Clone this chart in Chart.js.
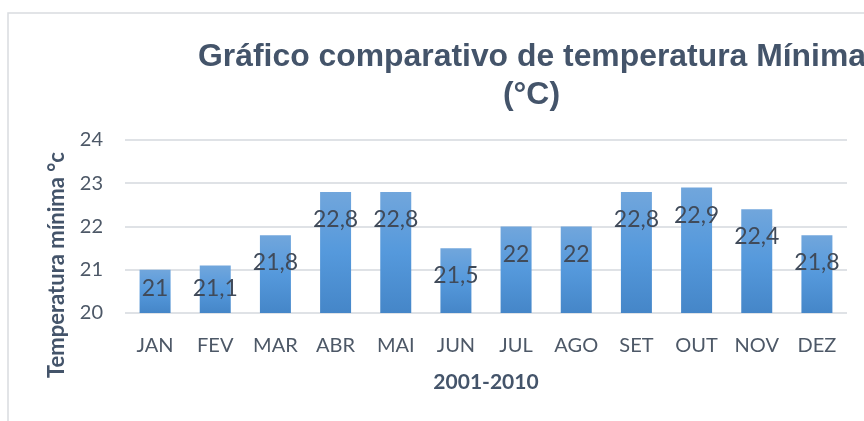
<!DOCTYPE html>
<html>
<head>
<meta charset="utf-8">
<script src="https://cdn.jsdelivr.net/npm/chart.js@4"></script>
<style>
  html, body { margin: 0; padding: 0; background: #ffffff; overflow: hidden; }
  #wrap { width: 864px; height: 421px; position: relative; }
</style>
</head>
<body>
<div id="wrap"><canvas id="c" width="864" height="421"></canvas></div>
<script>
const categories = ['JAN','FEV','MAR','ABR','MAI','JUN','JUL','AGO','SET','OUT','NOV','DEZ'];
const tempMin = [21, 21.1, 21.8, 22.8, 22.8, 21.5, 22, 22, 22.8, 22.9, 22.4, 21.8];
const yTicks = [20, 21, 22, 23, 24];
const titleLines = ['Gráfico comparativo de temperatura Mínima', '(°C)'];
const xTitle = '2001-2010';
const yTitle = 'Temperatura mínima °c';

const textColor = '#44546a';
const tickColor = '#4d5867';
const gridColor = '#dfe2e6';

function fmt(v) { return String(v).replace('.', ','); }

function barGradient(c) {
  const chart = c.chart;
  const y = chart.scales && chart.scales.y;
  if (!chart.chartArea || !y || c.dataIndex === undefined) return '#5b9bd5';
  const v = c.dataset.data[c.dataIndex];
  const top = y.getPixelForValue(v);
  const bot = y.getPixelForValue(y.min);
  if (!isFinite(top) || !isFinite(bot) || bot - top < 1) return '#5b9bd5';
  const g = chart.ctx.createLinearGradient(0, top, 0, bot);
  g.addColorStop(0, '#71a6dc');
  g.addColorStop(0.5, '#5599dc');
  g.addColorStop(1, '#4586c8');
  return g;
}

const decor = {
  id: 'decor',
  beforeDraw(chart) {
    const ctx = chart.ctx;
    ctx.save();
    ctx.fillStyle = '#ffffff';
    ctx.fillRect(0, 0, chart.width, chart.height);
    ctx.strokeStyle = '#d9dce0';
    ctx.lineWidth = 1.5;
    ctx.strokeRect(8, 13, chart.width + 20, chart.height + 20);
    ctx.restore();
  },
  afterDraw(chart) {
    const ctx = chart.ctx;
    const area = chart.chartArea;
    ctx.save();
    // Title
    ctx.fillStyle = textColor;
    ctx.font = 'bold 31px "Liberation Sans", Arial, sans-serif';
    ctx.textBaseline = 'alphabetic';
    ctx.textAlign = 'left';
    const w1 = ctx.measureText(titleLines[0]).width;
    const sx = 668 / w1;
    ctx.save();
    ctx.translate(198, 66);
    ctx.scale(sx, 1);
    ctx.fillText(titleLines[0], 0, 0);
    ctx.restore();
    ctx.save();
    ctx.translate(531.5, 104);
    ctx.scale(sx, 1);
    ctx.textAlign = 'center';
    ctx.fillText(titleLines[1], 0, 0);
    ctx.restore();

    // Axis titles
    ctx.fillStyle = textColor;
    ctx.font = 'bold 21px Lato, "Open Sans", sans-serif';
    ctx.textAlign = 'center';
    ctx.textBaseline = 'middle';
    ctx.fillText(xTitle, (area.left + area.right) / 2, 382);

    ctx.save();
    ctx.translate(57, 265);
    ctx.rotate(-Math.PI / 2);
    ctx.font = 'bold 22px Lato, "Open Sans", sans-serif';
    ctx.fillText(yTitle, 0, 0);
    ctx.restore();

    // Data labels (inside end, kept inside the bar)
    const ys = chart.scales.y;
    const base = ys.getPixelForValue(ys.min);
    const meta = chart.getDatasetMeta(0);
    ctx.fillStyle = '#404a59';
    ctx.font = '23px Lato, "Open Sans", sans-serif';
    ctx.textAlign = 'center';
    ctx.textBaseline = 'alphabetic';
    meta.data.forEach((bar, i) => {
      const top = ys.getPixelForValue(tempMin[i]);
      const by = Math.min(top + 35, base - 17);
      ctx.fillText(fmt(tempMin[i]), bar.x, by);
    });
    ctx.restore();
  }
};

new Chart(document.getElementById('c'), {
  type: 'bar',
  data: {
    labels: categories,
    datasets: [{
      data: tempMin,
      backgroundColor: barGradient,
      borderWidth: 0,
      barPercentage: 1,
      categoryPercentage: 0.515
    }]
  },
  options: {
    responsive: false,
    animation: false,
    devicePixelRatio: 1,
    layout: { padding: { left: 0, top: 140, right: 17, bottom: 0 } },
    plugins: {
      legend: { display: false },
      title: { display: false },
      tooltip: { enabled: false }
    },
    scales: {
      x: {
        afterFit(s) { s.height = 108; },
        grid: { display: false, drawTicks: false },
        border: { display: false },
        ticks: {
          color: tickColor,
          font: { family: 'Lato, "Open Sans", sans-serif', size: 20 },
          padding: 21,
          maxRotation: 0,
          autoSkip: false
        }
      },
      y: {
        min: yTicks[0],
        max: yTicks[yTicks.length - 1],
        afterFit(s) { s.width = 125; },
        afterBuildTicks(s) { s.ticks = yTicks.map(v => ({ value: v })); },
        grid: { color: gridColor, lineWidth: 2, drawTicks: false },
        border: { display: false },
        ticks: {
          color: tickColor,
          font: { family: 'Lato, "Open Sans", sans-serif', size: 20 },
          padding: 22,
          callback: v => fmt(v)
        }
      }
    }
  },
  plugins: [decor]
});
</script>
</body>
</html>
